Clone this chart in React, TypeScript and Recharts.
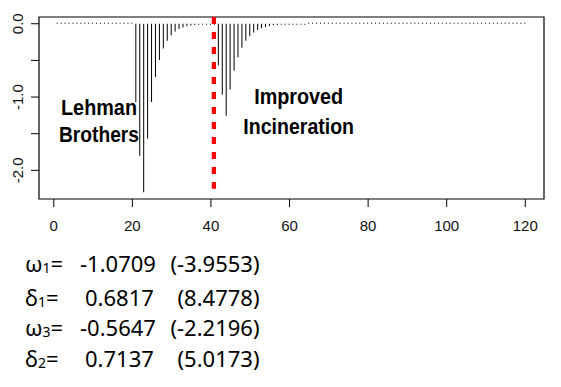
import React from 'react';
import { ComposedChart, Bar, XAxis, YAxis, ReferenceLine, ReferenceArea } from 'recharts';

// time index 1..120
const timeIndex: number[] = Array.from({ length: 120 }, (_, i) => i + 1);

// estimated intervention effect (t = 1..120)
const effectValues: number[] = [
  0, 0, 0, 0, 0, 0, 0, 0, 0, 0,
  0, 0, 0, 0, 0, 0, 0, 0, 0, 0,
  -1.071, -1.801, -2.299, -1.567, -1.068, -0.728, -0.496, -0.338, -0.231, -0.157,
  -0.107, -0.073, -0.05, -0.034, -0.023, -0.016, -0.011, -0.007, -0.005, -0.003,
  -0.002, -0.565, -0.968, -1.256, -0.896, -0.64, -0.457, -0.326, -0.233, -0.166,
  -0.118, -0.084, -0.06, -0.043, -0.031, -0.022, -0.016, -0.011, -0.008, -0.006,
  -0.004, -0.003, -0.002, -0.001, 0, 0, 0, 0, 0, 0,
  0, 0, 0, 0, 0, 0, 0, 0, 0, 0,
  0, 0, 0, 0, 0, 0, 0, 0, 0, 0,
  0, 0, 0, 0, 0, 0, 0, 0, 0, 0,
  0, 0, 0, 0, 0, 0, 0, 0, 0, 0,
  0, 0, 0, 0, 0, 0, 0, 0, 0, 0,
];

const xTicks = [0, 20, 40, 60, 80, 100, 120];
const yTicks = [-2, -1.5, -1, -0.5, 0];
const yTickLabels = ['-2.0', '', '-1.0', '', '0.0'];

const xDomain: [number, number] = [-3.76, 124.76];
const yDomain: [number, number] = [-2.391, 0.092];

const interventionTime = 40.75;
const interventionLineRange = [0.092, -2.25];

const annotations = [
  { lines: ['Lehman', 'Brothers'], x: 99, y: [115, 142], widths: [76, 80] },
  { lines: ['Improved', 'Incineration'], x: 298.7, y: [104, 134.3], widths: [89, 110.7] },
];

const paramSymbols = ['ω', 'δ', 'ω', 'δ'];
const paramSubscripts = ['1', '1', '3', '2'];
const paramEstimates = ['-1.0709', '0.6817', '-0.5647', '0.7137'];
const paramTStats = ['(-3.9553)', '(8.4778)', '(-2.2196)', '(5.0173)'];

const data = timeIndex.map((t, i) => ({ t, v: effectValues[i] }));

const axisFont = '"Liberation Sans", Arial, sans-serif';

const YTick = (props: any) => {
  const { x, y, payload } = props;
  const idx = yTicks.indexOf(payload.value);
  const label = idx >= 0 ? yTickLabels[idx] : '';
  if (!label) return null;
  const lx = x - 6;
  return (
    <text
      x={lx}
      y={y}
      transform={`rotate(-90, ${lx}, ${y})`}
      textAnchor="middle"
      fontSize={15}
      fill="#111"
      fontFamily={axisFont}
    >
      {label}
    </text>
  );
};

export default function App() {
  const rowBaselines = [272.3, 305.5, 335.7, 367.3];
  return (
    <div style={{ position: 'absolute', left: 0, top: 0, width: 561, height: 387, background: '#fff' }}>
      <ComposedChart
        width={561}
        height={387}
        data={data}
        margin={{ top: 17, right: 17, bottom: 148, left: 0 }}
      >
        <XAxis
          dataKey="t"
          type="number"
          domain={xDomain}
          ticks={xTicks}
          interval={0}
          allowDataOverflow
          axisLine={false}
          tickLine={{ stroke: '#000' }}
          tickSize={8}
          tickMargin={13}
          height={40}
          tick={{ fontSize: 15, fill: '#111', fontFamily: axisFont }}
        />
        <YAxis
          type="number"
          domain={yDomain}
          ticks={yTicks}
          interval={0}
          allowDataOverflow
          axisLine={false}
          tickLine={{ stroke: '#000' }}
          tickSize={8}
          width={39}
          tick={<YTick />}
        />
        <ReferenceArea
          x1={xDomain[0]}
          x2={xDomain[1]}
          y1={yDomain[0]}
          y2={yDomain[1]}
          fill="none"
          fillOpacity={0}
          stroke="#000"
          strokeWidth={1.2}
          ifOverflow="visible"
        />
        <Bar dataKey="v" fill="#000" barSize={1} minPointSize={1} isAnimationActive={false} />
        <ReferenceLine
          segment={[
            { x: interventionTime, y: interventionLineRange[0] },
            { x: interventionTime, y: interventionLineRange[1] },
          ]}
          stroke="#ff0000"
          strokeWidth={4.3}
          strokeDasharray="7 8"
          ifOverflow="visible"
        />
      </ComposedChart>
      <svg
        width={561}
        height={387}
        style={{ position: 'absolute', left: 0, top: 0, pointerEvents: 'none' }}
      >
        {annotations.map((a, i) =>
          a.lines.map((line, j) => (
            <text
              key={`${i}-${j}`}
              x={a.x}
              y={a.y[j]}
              textAnchor="middle"
              fontSize={21.5}
              fontWeight="bold"
              fontFamily={axisFont}
              fill="#000"
              textLength={a.widths[j]}
              lengthAdjust="spacingAndGlyphs"
            >
              {line}
            </text>
          ))
        )}
        {paramSymbols.map((s, i) => (
          <g key={i} fontFamily='"Noto Sans", sans-serif' fill="#000">
            <text x={25} y={rowBaselines[i]} fontSize={22}>
              {s}
              <tspan fontSize={14} dy={1}>{paramSubscripts[i]}</tspan>
              <tspan fontSize={22} dy={-1}>=</tspan>
            </text>
            <text x={paramEstimates[i].startsWith('-') ? 80 : 85} y={rowBaselines[i]} fontSize={22}>
              {paramEstimates[i]}
            </text>
            <text x={259.5} y={rowBaselines[i]} fontSize={22} textAnchor="end">
              {paramTStats[i]}
            </text>
          </g>
        ))}
      </svg>
    </div>
  );
}
